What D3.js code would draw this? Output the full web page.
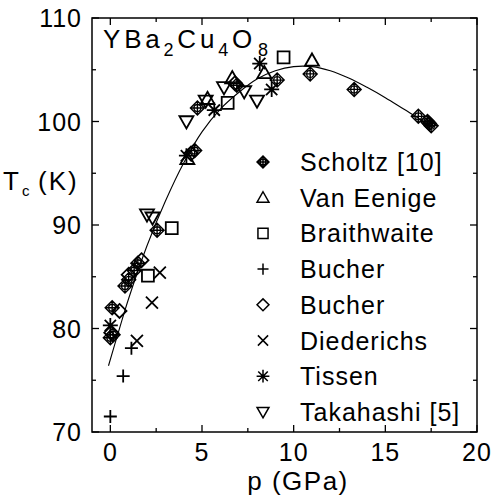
<!DOCTYPE html>
<html>
<head>
<meta charset="utf-8">
<script src="https://cdn.jsdelivr.net/npm/d3@7/dist/d3.min.js"></script>
<style>
  body { margin: 0; background: #fff; }
  svg { display: block; font-family: "Liberation Sans", Arial, Helvetica, sans-serif; }
</style>
</head>
<body>
<div id="chart"></div>
<script>
// data: [p (GPa), Tc (K)]
var scholtz = [[0.0, 79.1], [0.15, 79.4], [0.1, 82.0], [0.8, 84.1], [1.0, 84.7], [1.3, 85.6],
  [1.5, 86.3], [2.55, 89.5], [4.6, 97.2], [4.75, 101.3], [6.9, 103.5], [9.1, 104.0],
  [10.9, 104.6], [13.3, 103.1], [16.8, 100.5], [17.3, 100.0], [17.4, 99.8], [17.5, 99.6]];
var vanEenige = [[4.2, 96.4], [5.3, 102.2], [6.65, 104.2], [8.4, 104.7], [11.0, 105.9]];
var braithwaite = [[2.05, 85.1], [3.35, 89.7], [6.4, 101.8], [9.45, 106.2]];
var bucherPlus = [[0.0, 71.5], [0.7, 75.4], [1.15, 78.1]];
var bucherDiamond = [[0.05, 79.6], [0.5, 81.7], [1.0, 85.2], [1.7, 86.6], [4.4, 96.9], [6.8, 103.7]];
var diederichs = [[1.45, 78.8], [2.27, 82.5], [2.7, 85.4]];
var tissen = [[0.0, 80.3], [4.15, 96.7], [5.67, 101.1], [8.15, 105.6], [8.8, 103.1]];
var takahashi = [[2.0, 91.0], [2.3, 90.7], [4.15, 100.0], [5.2, 102.0], [6.2, 103.3], [7.3, 102.9], [8.0, 102.0]];
// guide curve
var fitCurve = [[-0.1, 76.4], [0.5, 80.0], [1, 82.9], [2, 88.0], [3, 92.3], [4, 96.0], [5, 99.0],
  [6, 101.2], [7, 102.8], [8, 104.1], [9, 104.9], [10, 105.3], [11, 105.3], [12, 104.9],
  [13, 104.2], [14, 103.3], [15, 102.3], [16, 101.2], [17, 100.1], [17.5, 99.5]];

var xTicks = [0, 5, 10, 15, 20];
var yTicks = [70, 80, 90, 100, 110];
var xMinor = [2.5, 7.5, 12.5, 17.5];
var yMinor = [75, 85, 95, 105];

var width = 491, height = 501;
var svg = d3.select("#chart").append("svg")
  .attr("width", width).attr("height", height);

var x = d3.scaleLinear().domain([-1, 20]).range([92, 477]);
var y = d3.scaleLinear().domain([70, 110]).range([432, 18]);

// marker shapes, all drawn around 0,0
function markerPath(kind, s) {
  var p = d3.path();
  var h = s / 2;
  if (kind === "diamond" || kind === "xdiamond") {
    p.moveTo(0, -h); p.lineTo(h, 0); p.lineTo(0, h); p.lineTo(-h, 0); p.closePath();
    if (kind === "xdiamond") {
      p.moveTo(0, -h); p.lineTo(0, h);
      p.moveTo(-h, 0); p.lineTo(h, 0);
      var r = h * 0.5;
      p.moveTo(r, 0); p.arc(0, 0, r, 0, 2 * Math.PI);
    }
  } else if (kind === "up") {
    p.moveTo(0, -h); p.lineTo(h, h * 0.75); p.lineTo(-h, h * 0.75); p.closePath();
  } else if (kind === "down") {
    p.moveTo(0, h); p.lineTo(h, -h * 0.75); p.lineTo(-h, -h * 0.75); p.closePath();
  } else if (kind === "square") {
    p.rect(-h * 0.85, -h * 0.85, h * 1.7, h * 1.7);
  } else if (kind === "plus") {
    p.moveTo(-h, 0); p.lineTo(h, 0); p.moveTo(0, -h); p.lineTo(0, h);
  } else if (kind === "cross") {
    var c = h * 0.8;
    p.moveTo(-c, -c); p.lineTo(c, c); p.moveTo(c, -c); p.lineTo(-c, c);
  } else if (kind === "star") {
    var d = h * 0.75;
    p.moveTo(0, -h); p.lineTo(0, h);
    p.moveTo(-d, -d); p.lineTo(d, d); p.moveTo(d, -d); p.lineTo(-d, d);
    p.moveTo(-h, 0); p.lineTo(h, 0);
  }
  return p.toString();
}

var series = [
  {name: "Scholtz [10]", data: scholtz, kind: "xdiamond", size: 14, sw: 1.4},
  {name: "Van Eenige", data: vanEenige, kind: "up", size: 14, sw: 1.8},
  {name: "Braithwaite", data: braithwaite, kind: "square", size: 14, sw: 1.8},
  {name: "Bucher", data: bucherPlus, kind: "plus", size: 13, sw: 1.8},
  {name: "Bucher", data: bucherDiamond, kind: "diamond", size: 14, sw: 1.8},
  {name: "Diederichs", data: diederichs, kind: "cross", size: 15, sw: 1.8},
  {name: "Tissen", data: tissen, kind: "star", size: 15, sw: 1.8},
  {name: "Takahashi [5]", data: takahashi, kind: "down", size: 14, sw: 1.8}
];

// frame
svg.append("rect")
  .attr("x", x(-1)).attr("y", y(110))
  .attr("width", x(20) - x(-1)).attr("height", y(70) - y(110))
  .attr("fill", "none").attr("stroke", "#000").attr("stroke-width", 1.5);

// ticks on all four sides, pointing in
var tickG = svg.append("g").attr("stroke", "#000").attr("stroke-width", 1.3);
function ticksX(vals, len) {
  vals.forEach(function(v) {
    tickG.append("line").attr("x1", x(v)).attr("x2", x(v)).attr("y1", y(70)).attr("y2", y(70) - len);
    tickG.append("line").attr("x1", x(v)).attr("x2", x(v)).attr("y1", y(110)).attr("y2", y(110) + len);
  });
}
function ticksY(vals, len) {
  vals.forEach(function(v) {
    tickG.append("line").attr("y1", y(v)).attr("y2", y(v)).attr("x1", x(-1)).attr("x2", x(-1) + len);
    tickG.append("line").attr("y1", y(v)).attr("y2", y(v)).attr("x1", x(20)).attr("x2", x(20) - len);
  });
}
ticksX(xTicks, 7); ticksX(xMinor, 4);
ticksY(yTicks, 7); ticksY(yMinor, 4);

svg.append("g").selectAll("text").data(xTicks).enter().append("text")
  .attr("x", function(d) { return x(d); })
  .attr("y", 461)
  .attr("text-anchor", "middle")
  .attr("font-size", 25)
  .attr("letter-spacing", 1)
  .text(function(d) { return d; });

svg.append("g").selectAll("text").data(yTicks).enter().append("text")
  .attr("x", 82)
  .attr("y", function(d) { return y(d) + 9; })
  .attr("text-anchor", "end")
  .attr("font-size", 25)
  .attr("letter-spacing", 1)
  .text(function(d) { return d; });

// axis titles
svg.append("text").attr("x", 298).attr("y", 490).attr("text-anchor", "middle")
  .attr("font-size", 26).attr("letter-spacing", 1.5).text("p (GPa)");
var yl = svg.append("text").attr("x", 3).attr("y", 190).attr("font-size", 26);
yl.append("tspan").text("T");
yl.append("tspan").attr("font-size", 15).attr("dx", 3).attr("dy", 6).text("c");
yl.append("tspan").attr("x", 38).attr("dy", -6).attr("letter-spacing", 2).text("(K)");

// compound label
var title = svg.append("text").attr("x", 103).attr("y", 48).attr("font-size", 26)
  .attr("letter-spacing", 3.8);
title.append("tspan").text("YBa");
title.append("tspan").attr("font-size", 18).attr("dy", 8).text("2");
title.append("tspan").attr("dy", -8).text("Cu");
title.append("tspan").attr("font-size", 18).attr("dy", 8).text("4");
title.append("tspan").attr("dy", -8).text("O");
title.append("tspan").attr("font-size", 18).attr("dx", 2).attr("dy", 8).text("8");

// guide curve
var line = d3.line()
  .x(function(d) { return x(d[0]); })
  .y(function(d) { return y(d[1]); })
  .curve(d3.curveCatmullRom);
svg.append("path").datum(fitCurve)
  .attr("d", line)
  .attr("fill", "none").attr("stroke", "#000").attr("stroke-width", 1.1);

// data markers
series.forEach(function(s) {
  svg.append("g").selectAll("path").data(s.data).enter().append("path")
    .attr("transform", function(d) { return "translate(" + x(d[0]) + "," + y(d[1]) + ")"; })
    .attr("d", markerPath(s.kind, s.size))
    .attr("fill", "none")
    .attr("stroke", "#000")
    .attr("stroke-width", s.sw);
});

// legend
var legend = svg.append("g");
series.forEach(function(s, i) {
  var ly = 162 + i * 35.7;
  legend.append("path")
    .attr("transform", "translate(263," + ly + ")")
    .attr("d", markerPath(s.kind, s.size * 0.85))
    .attr("fill", "none").attr("stroke", "#000").attr("stroke-width", 1.5);
  legend.append("text")
    .attr("x", 300).attr("y", ly + 9)
    .attr("font-size", 25)
    .attr("letter-spacing", 1)
    .text(s.name);
});
</script>
</body>
</html>
